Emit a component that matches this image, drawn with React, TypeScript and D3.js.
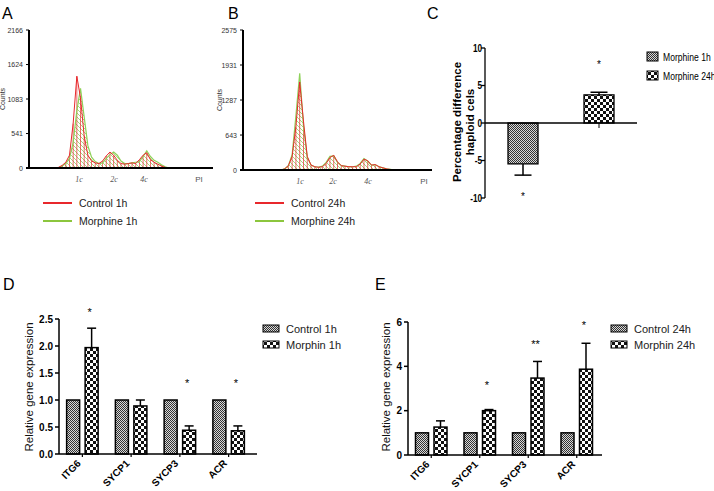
import React from "react";
import * as d3 from "d3";

const FONT = "'Liberation Sans', Arial, sans-serif";

// flow cytometry histograms (channel in % of PI range, counts)
const chA = [14, 16, 18, 20, 22, 24, 26, 28, 30, 32, 34, 36, 38, 40, 42, 44, 46, 48, 50, 52, 54, 56, 58, 60, 62, 64, 66, 68, 70, 72, 74, 76];
const redA = [0, 10, 40, 90, 200, 700, 1440, 1100, 500, 200, 110, 80, 70, 110, 190, 250, 200, 120, 70, 60, 70, 80, 70, 130, 200, 240, 130, 90, 60, 30, 10, 0];
const greenA = [0, 5, 30, 70, 150, 400, 900, 1250, 800, 350, 170, 100, 70, 80, 150, 210, 250, 200, 110, 70, 70, 80, 90, 100, 180, 270, 180, 120, 90, 50, 20, 0];
const ticksA = [0, 541, 1083, 1624, 2166];

const chB = [20, 22, 24, 26, 28, 30, 32, 34, 36, 38, 40, 42, 44, 46, 48, 50, 52, 54, 56, 58, 60, 62, 64, 66, 68, 70, 72, 74, 76, 78, 80];
const redB = [0, 20, 80, 250, 800, 1620, 900, 250, 90, 60, 50, 60, 120, 230, 270, 150, 80, 70, 60, 60, 60, 110, 200, 170, 90, 100, 60, 40, 20, 10, 0];
const greenB = [0, 20, 80, 280, 1000, 1780, 800, 230, 90, 60, 55, 70, 140, 250, 260, 140, 80, 70, 60, 60, 70, 120, 210, 160, 90, 95, 60, 40, 20, 10, 0];
const ticksB = [0, 643, 1287, 1931, 2575];

const ploidyLabels = ["1c", "2c", "4c", "PI"];
const ploidyA = [27.2, 46.2, 62.5, 92.4];
const ploidyB = [30.2, 47.6, 66.1, 95.8];

// panel C
const groupsC = ["Morphine 1h", "Morphine 24h"];
const valuesC = [-5.45, 3.75];
const errorsC = [1.5, 0.35];
const starsC = [-9.5, 8.1];
const ticksC = [-10, -5, 0, 5, 10];

// panels D and E
const genes = ["ITG6", "SYCP1", "SYCP3", "ACR"];
const control1h = [1, 1, 1, 1];
const morphin1h = [1.97, 0.89, 0.44, 0.43];
const morphin1hErr = [0.36, 0.11, 0.08, 0.09];
const stars1h = ["*", "", "*", "*"];
const starLevel1h = [2.67, 0, 1.35, 1.35];
const ticks1h = [0, 0.5, 1.0, 1.5, 2.0, 2.5];

const control24h = [1, 1, 1, 1];
const morphin24h = [1.26, 2.0, 3.47, 3.87];
const morphin24hErr = [0.28, 0.05, 0.75, 1.17];
const stars24h = ["", "*", "**", "*"];
const starLevel24h = [0, 3.24, 5.09, 5.95];
const ticks24h = [0, 2, 4, 6];

const RED = "#e8282c";
const GREEN = "#8fd15a";

// Arial Narrow look-alike: squeeze regular text horizontally
function Narrow({ x, y, anchor = "start", size, bold = false, children }) {
  return (
    <text transform={`translate(${x},${y}) scale(0.78,1)`} textAnchor={anchor} fontSize={size}
      fontWeight={bold ? "bold" : "normal"} fontFamily={FONT}>{children}</text>
  );
}

function Histogram({ id, x0, x1, yTop, yBase, ticks, ch, red, green, tickPos, countsX, legend, legendX }) {
  const x = d3.scaleLinear().domain([0, 100]).range([x0, x1]);
  const y = d3.scaleLinear().domain([0, ticks[ticks.length - 1]]).range([yBase, yTop]);
  const gPts = ch.map((c, i) => [c, green[i]]);
  const rPts = ch.map((c, i) => [c, red[i]]);
  const area = d3.area().x((d) => x(d[0])).y0(y(0)).y1((d) => y(d[1]));
  const line = d3.line().x((d) => x(d[0])).y((d) => y(d[1]));
  return (
    <g>
      <path d={area(gPts)} fill={`url(#gh-${id})`} />
      {rPts.map((d, i) => (
        <line key={i} x1={x(d[0])} x2={x(d[0])} y1={y(d[1])} y2={y(0)} stroke={RED} strokeWidth={0.8} opacity={0.85} />
      ))}
      <path d={line(gPts)} fill="none" stroke={GREEN} strokeWidth={1.2} />
      <path d={line(rPts)} fill="none" stroke={RED} strokeWidth={1} />
      <line x1={x0} x2={x0} y1={yTop} y2={yBase} stroke="#000" strokeWidth={2} />
      <line x1={x0 - 3} x2={x1} y1={yBase} y2={yBase} stroke="#000" strokeWidth={2} />
      {ticks.map((t) => (
        <g key={t}>
          <line x1={x0 - 3} x2={x0} y1={y(t)} y2={y(t)} stroke="#000" strokeWidth={1} />
          <text x={x0 - 6} y={y(t) + 2.5} textAnchor="end" fontSize={7} fill="#333" fontFamily={FONT}>{t}</text>
        </g>
      ))}
      {ploidyLabels.map((l, i) => (
        <text key={l} x={x(tickPos[i])} y={yBase + 14} textAnchor="middle" fontSize={8}
          fill="#555" fontFamily={l === "PI" ? FONT : "'Liberation Serif', serif"} fontStyle={l === "PI" ? "normal" : "italic"}>{l}</text>
      ))}
      <text transform={`translate(${countsX},${(yTop + yBase) / 2}) rotate(-90)`} textAnchor="middle" fontSize={7} fill="#333" fontFamily={FONT}>Counts</text>
      {legend.map((l, i) => (
        <g key={l}>
          <line x1={legendX} x2={legendX + 29} y1={203 + i * 18} y2={203 + i * 18} stroke={i === 0 ? RED : "#8cc63e"} strokeWidth={2} />
          <text x={legendX + 36} y={207 + i * 18} fontSize={10.5} fill="#222" fontFamily={FONT}>{l}</text>
        </g>
      ))}
    </g>
  );
}

function PanelC() {
  const x = d3.scalePoint().domain(groupsC).range([485, 637]).padding(0.5);
  const y = d3.scaleLinear().domain([-10, 10]).range([198, 48]);
  const fills = ["url(#fine)", "url(#coarse)"];
  return (
    <g>
      {groupsC.map((g, i) => {
        const cx = x(g);
        const v = valuesC[i];
        const e = v + Math.sign(v) * errorsC[i];
        return (
          <g key={g}>
            <line x1={cx} x2={cx} y1={y(0)} y2={y(0) + 5} stroke="#000" strokeWidth={1} />
            <line x1={cx} x2={cx} y1={y(v)} y2={y(e)} stroke="#000" strokeWidth={1.5} />
            <line x1={cx - 8.5} x2={cx + 8.5} y1={y(e)} y2={y(e)} stroke="#000" strokeWidth={1.5} />
            <rect x={cx - 15} width={30} y={Math.min(y(v), y(0))} height={Math.abs(y(v) - y(0))} fill={fills[i]} stroke="#000" strokeWidth={1.3} />
            <text x={cx} y={y(starsC[i]) + 5.5} textAnchor="middle" fontSize={10} fontFamily={FONT}>*</text>
          </g>
        );
      })}
      <line x1={485} x2={485} y1={y(10)} y2={y(-10)} stroke="#000" strokeWidth={1.3} />
      <line x1={485} x2={637} y1={y(0)} y2={y(0)} stroke="#000" strokeWidth={1.3} />
      {ticksC.map((t) => (
        <g key={t}>
          <line x1={481} x2={485} y1={y(t)} y2={y(t)} stroke="#000" strokeWidth={1.3} />
          <Narrow x={482} y={y(t) + 3.5} anchor="end" size={10.5} bold>{t}</Narrow>
        </g>
      ))}
      <text transform={`translate(461,122) rotate(-90)`} textAnchor="middle" fontSize={11.5} fontWeight="bold" fontFamily={FONT}>
        <tspan x={0} dy={0}>Percentage difference</tspan>
        <tspan x={0} dy={12.5}>haploid cels</tspan>
      </text>
      {groupsC.map((g, i) => (
        <g key={g}>
          <rect x={647} y={52 + i * 19} width={11} height={9} fill={fills[i]} stroke="#000" strokeWidth={1} />
          <Narrow x={663} y={61 + i * 19} size={11}>{g}</Narrow>
        </g>
      ))}
    </g>
  );
}

function GeneChart({ x0, x1, axisEnd, yTop, yBase, labelX, ticks, fmt, ctrl, morph, err, stars, starLevel, legend }) {
  const x = d3.scaleBand().domain(genes).range([x0, x1]);
  const sub = d3.scalePoint().domain(["ctrl", "morph"]).range([-9.25, 9.25]);
  const y = d3.scaleLinear().domain([0, ticks[ticks.length - 1]]).range([yBase, yTop]);
  const bw = 13;
  const legendX = x1 + 10;
  return (
    <g>
      {genes.map((g, i) => {
        const c = x(g) + x.bandwidth() / 2;
        const cc = c + sub("ctrl");
        const cm = c + sub("morph");
        const top = y(morph[i] + err[i]);
        return (
          <g key={g}>
            <rect x={cc - bw / 2} width={bw} y={y(ctrl[i])} height={yBase - y(ctrl[i])} fill="url(#fine)" stroke="#000" strokeWidth={1.5} />
            <line x1={cm} x2={cm} y1={y(morph[i])} y2={top} stroke="#000" strokeWidth={1.5} />
            <line x1={cm - 4.5} x2={cm + 4.5} y1={top} y2={top} stroke="#000" strokeWidth={1.5} />
            <rect x={cm - bw / 2} width={bw} y={y(morph[i])} height={yBase - y(morph[i])} fill="url(#coarse)" stroke="#000" strokeWidth={1.5} />
            {stars[i] && (
              <text x={cm - 2} y={y(starLevel[i]) + 6} textAnchor="middle" fontSize={11} fontFamily={FONT}>{stars[i]}</text>
            )}
            <line x1={c} x2={c} y1={yBase} y2={yBase + 3} stroke="#000" strokeWidth={1.2} />
            <text transform={`translate(${c - 1},${yBase + 10}) rotate(-45)`} textAnchor="end" fontSize={10} fontWeight="bold" fontFamily={FONT}>{g}</text>
          </g>
        );
      })}
      <line x1={x0 + 1} x2={x0 + 1} y1={yTop} y2={yBase} stroke="#000" strokeWidth={1.5} />
      <line x1={x0 + 1} x2={axisEnd} y1={yBase} y2={yBase} stroke="#000" strokeWidth={1.5} />
      {ticks.map((t) => (
        <g key={t}>
          <line x1={x0 - 3} x2={x0 + 1} y1={y(t)} y2={y(t)} stroke="#000" strokeWidth={1.5} />
          <text x={x0 - 5} y={y(t) + 3.5} textAnchor="end" fontSize={10} fontWeight="bold" fontFamily={FONT}>{fmt(t)}</text>
        </g>
      ))}
      <text transform={`translate(${labelX},387) rotate(-90)`} textAnchor="middle" fontSize={11.5} fill="#111" fontFamily={FONT}>Relative gene expression</text>
      {legend.map((l, i) => (
        <g key={l}>
          <rect x={legendX} y={325 + i * 16} width={16} height={7} fill={i === 0 ? "url(#fine)" : "url(#coarse)"} stroke="#000" strokeWidth={1} />
          <text x={legendX + 23} y={333 + i * 15.5} fontSize={11} fill="#222" fontFamily={FONT}>{l}</text>
        </g>
      ))}
    </g>
  );
}

export default function App() {
  return (
    <svg width={714} height={491} style={{ position: "absolute", left: 0, top: 0, background: "#fff" }}>
      <defs>
        <pattern id="fine" width={2} height={2} patternUnits="userSpaceOnUse">
          <rect width={2} height={2} fill="#d8d8d8" />
          <rect width={1} height={1} fill="#333" />
          <rect x={1} y={1} width={1} height={1} fill="#333" />
        </pattern>
        <pattern id="coarse" width={6} height={6} patternUnits="userSpaceOnUse">
          <rect width={6} height={6} fill="#fff" />
          <rect width={3} height={3} fill="#111" />
          <rect x={3} y={3} width={3} height={3} fill="#111" />
        </pattern>
        {["A", "B"].map((k) => (
          <pattern key={k} id={`gh-${k}`} width={4} height={4} patternUnits="userSpaceOnUse">
            <line x1={0} y1={0} x2={4} y2={4} stroke={GREEN} strokeWidth={0.8} />
          </pattern>
        ))}
      </defs>
      <g fontFamily={FONT}>
        <text x={2} y={19} fontSize={16}>A</text>
        <text x={228} y={19} fontSize={16}>B</text>
        <text x={427} y={19} fontSize={16}>C</text>
        <text x={3} y={290} fontSize={16}>D</text>
        <text x={375} y={290} fontSize={16}>E</text>
      </g>
      <Histogram id="A" x0={29} x1={213} yTop={30} yBase={168} ticks={ticksA} ch={chA} red={redA} green={greenA}
        tickPos={ploidyA} countsX={5} legend={["Control 1h", "Morphine 1h"]} legendX={43} />
      <Histogram id="B" x0={243} x1={432} yTop={30} yBase={170} ticks={ticksB} ch={chB} red={redB} green={greenB}
        tickPos={ploidyB} countsX={222} legend={["Control 24h", "Morphine 24h"]} legendX={255} />
      <PanelC />
      <GeneChart x0={58} x1={253} axisEnd={257} yTop={319} yBase={454} labelX={33} ticks={ticks1h} fmt={d3.format(".1f")}
        ctrl={control1h} morph={morphin1h} err={morphin1hErr} stars={stars1h} starLevel={starLevel1h}
        legend={["Control 1h", "Morphin 1h"]} />
      <GeneChart x0={407} x1={601} axisEnd={602} yTop={322} yBase={455} labelX={390} ticks={ticks24h} fmt={d3.format("d")}
        ctrl={control24h} morph={morphin24h} err={morphin24hErr} stars={stars24h} starLevel={starLevel24h}
        legend={["Control 24h", "Morphin 24h"]} />
    </svg>
  );
}
